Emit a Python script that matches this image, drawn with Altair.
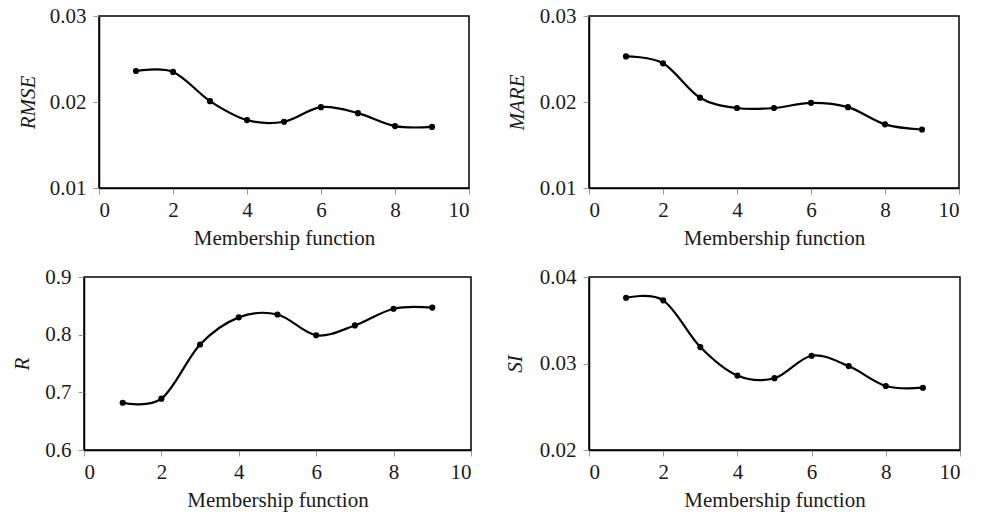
import altair as alt
import pandas as pd

mf = [1, 2, 3, 4, 5, 6, 7, 8, 9]
rmse = [0.0236, 0.0235, 0.0201, 0.0179, 0.0177, 0.0194, 0.0187, 0.0172, 0.0171]
mare = [0.0253, 0.0245, 0.0205, 0.0193, 0.0193, 0.0199, 0.0194, 0.0174, 0.0168]
r_vals = [0.682, 0.689, 0.783, 0.830, 0.835, 0.799, 0.816, 0.845, 0.847]
si = [0.0376, 0.0373, 0.0319, 0.0286, 0.0283, 0.0309, 0.0297, 0.0274, 0.0272]
x_ticks = [0, 2, 4, 6, 8, 10]
rmse_ticks = [0.01, 0.02, 0.03]
mare_ticks = [0.01, 0.02, 0.03]
r_ticks = [0.6, 0.7, 0.8, 0.9]
si_ticks = [0.02, 0.03, 0.04]

FONT = "Liberation Serif"


def panel(values, name, yticks, fmt, w, h, title_x):
    df = pd.DataFrame({"mf": mf, "v": values})
    x = alt.X(
        "mf:Q",
        scale=alt.Scale(domain=[0, 10], nice=False),
        axis=alt.Axis(values=x_ticks, title="Membership function",
                      titleY=56, titleBaseline="alphabetic", labelPadding=5),
    )
    y = alt.Y(
        "v:Q",
        scale=alt.Scale(domain=[yticks[0], yticks[-1]], nice=False, zero=False),
        axis=alt.Axis(values=yticks, format=fmt, title=name,
                      titleFontStyle="italic", titleX=title_x,
                      titleBaseline="alphabetic", labelPadding=7),
    )
    base = alt.Chart(df).encode(x=x, y=y)
    line = base.mark_line(interpolate="cardinal", color="black", strokeWidth=2.2)
    pts = base.mark_circle(size=38, color="black", opacity=1)
    return (line + pts).properties(width=w, height=h)


def spacer(w):
    return alt.Chart(pd.DataFrame({"a": [0]})).mark_point(opacity=0).properties(
        width=w, height=1, view=alt.ViewBackground(strokeOpacity=0)
    )


tl = panel(rmse, "RMSE", rmse_ticks, ".2f", 370, 172, -65)
tr = panel(mare, "MARE", mare_ticks, ".2f", 370, 172, -66)
bl = panel(r_vals, "R", r_ticks, ".1f", 387, 173, -56)
br = panel(si, "SI", si_ticks, ".2f", 371, 173, -68)

top_row = alt.hconcat(spacer(16), alt.hconcat(tl, tr, spacing=34), spacing=0)
bottom_row = alt.hconcat(spacer(10), alt.hconcat(bl, br, spacing=30), spacing=0)

chart = alt.vconcat(
    top_row, bottom_row, spacing=16,
).properties(
    padding={"left": 0, "top": 4, "right": 5, "bottom": 5},
    background="white",
).configure_view(
    stroke="black", strokeWidth=1.5
).configure_axis(
    grid=False,
    domainColor="black",
    domainWidth=1.5,
    tickColor="#9a9a9a",
    tickSize=6,
    tickWidth=1,
    labelFont=FONT,
    labelFontSize=21,
    labelColor="#1a1a1a",
    titleFont=FONT,
    titleFontSize=21,
    titleFontWeight="normal",
    titleColor="#1a1a1a",
)

chart.save("out.html", embed_options={"renderer": "svg", "actions": False})
